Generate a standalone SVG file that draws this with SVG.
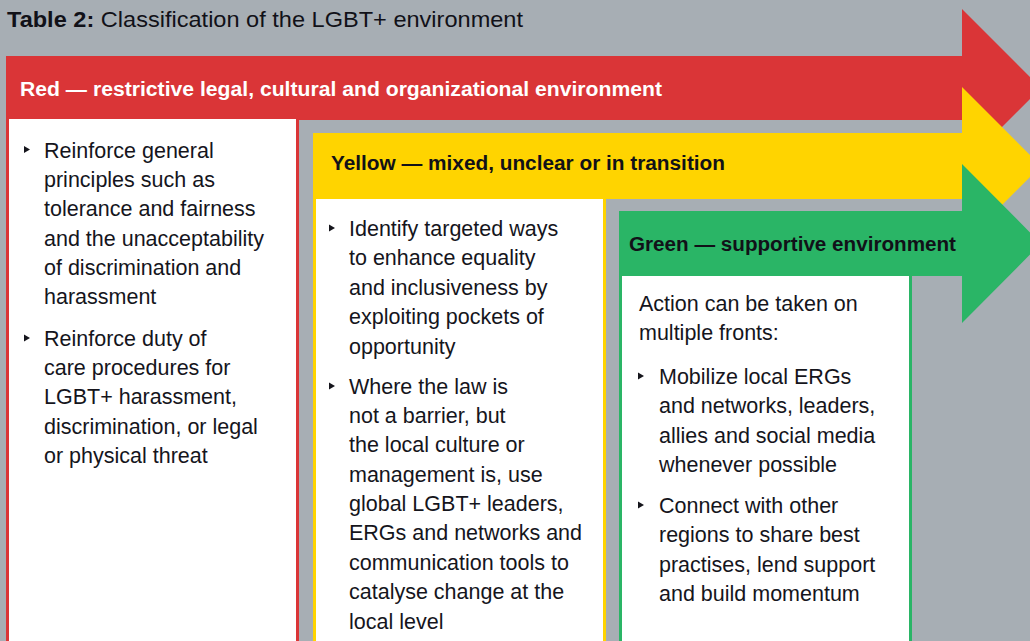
<svg xmlns="http://www.w3.org/2000/svg" width="1030" height="641" viewBox="0 0 1030 641">
<style>
.t{font-family:"Liberation Sans",Arial,sans-serif;fill:#111118}
.title{font-size:22px}
.hd{font-family:"Liberation Sans",Arial,sans-serif;font-size:19.5px;font-weight:bold}
.body{font-family:"Liberation Sans",Arial,sans-serif;font-size:21.5px;fill:#15151c}
.red{fill:#DA3537}
.yel{fill:#FFD400}
.grn{fill:#2AB566}
.wh{fill:#ffffff}
</style>
<defs>
<path id="b" d="M0,-3.5 L6,0 L0,3.5 Z" fill="#15151c"/>
</defs>
<rect x="0" y="0" width="1030" height="641" fill="#A7AEB4"/>
<text class="t title" x="7" y="27" textLength="516" lengthAdjust="spacingAndGlyphs"><tspan font-weight="bold">Table 2:</tspan> Classification of the LGBT+ environment</text>

<g id="red">
<path class="red" d="M6,56 H962 V9 L1041,88 L962,167 V120 H299 V641 H6 Z"/>
<rect class="wh" x="9" y="119" width="287" height="530"/>
<text class="hd" x="20" y="96" fill="#ffffff" textLength="642" lengthAdjust="spacingAndGlyphs">Red — restrictive legal, cultural and organizational environment</text>
<use href="#b" x="24" y="149.5"/>
<text class="body" x="44" y="158">Reinforce general</text>
<text class="body" x="44" y="187">principles such as</text>
<text class="body" x="44" y="216">tolerance and fairness</text>
<text class="body" x="44" y="246">and the unacceptability</text>
<text class="body" x="44" y="275">of discrimination and</text>
<text class="body" x="44" y="304">harassment</text>
<use href="#b" x="24" y="338"/>
<text class="body" x="44" y="346">Reinforce duty of</text>
<text class="body" x="44" y="375">care procedures for</text>
<text class="body" x="44" y="404">LGBT+ harassment,</text>
<text class="body" x="44" y="434">discrimination, or legal</text>
<text class="body" x="44" y="463">or physical threat</text>
</g>

<g id="yellow">
<path class="yel" d="M313,133 H962 V87 L1041,166 L962,245 V199 H606 V641 H313 Z"/>
<rect class="wh" x="316" y="199" width="287" height="450"/>
<text class="hd" x="331" y="170" fill="#111118" textLength="394" lengthAdjust="spacingAndGlyphs">Yellow — mixed, unclear or in transition</text>
<use href="#b" x="329" y="228"/>
<text class="body" x="349" y="236">Identify targeted ways</text>
<text class="body" x="349" y="265">to enhance equality</text>
<text class="body" x="349" y="295">and inclusiveness by</text>
<text class="body" x="349" y="324">exploiting pockets of</text>
<text class="body" x="349" y="354">opportunity</text>
<use href="#b" x="329" y="386"/>
<text class="body" x="349" y="394">Where the law is</text>
<text class="body" x="349" y="423">not a barrier, but</text>
<text class="body" x="349" y="452">the local culture or</text>
<text class="body" x="349" y="482">management is, use</text>
<text class="body" x="349" y="511">global LGBT+ leaders,</text>
<text class="body" x="349" y="540">ERGs and networks and</text>
<text class="body" x="349" y="570">communication tools to</text>
<text class="body" x="349" y="599">catalyse change at the</text>
<text class="body" x="349" y="629">local level</text>
</g>

<g id="green">
<path class="grn" d="M619,211 H962 V164 L1041,243.5 L962,323 V276 H912 V641 H619 Z"/>
<rect class="wh" x="622" y="276" width="287" height="370"/>
<text class="hd" x="629" y="251" fill="#111118" textLength="327" lengthAdjust="spacingAndGlyphs">Green — supportive environment</text>
<text class="body" x="639" y="311">Action can be taken on</text>
<text class="body" x="639" y="340">multiple fronts:</text>
<use href="#b" x="638" y="376"/>
<text class="body" x="659" y="384">Mobilize local ERGs</text>
<text class="body" x="659" y="413">and networks, leaders,</text>
<text class="body" x="659" y="443">allies and social media</text>
<text class="body" x="659" y="472">whenever possible</text>
<use href="#b" x="638" y="505"/>
<text class="body" x="659" y="513">Connect with other</text>
<text class="body" x="659" y="542">regions to share best</text>
<text class="body" x="659" y="572">practises, lend support</text>
<text class="body" x="659" y="601">and build momentum</text>
</g>
<g id="connectors"/>
</svg>
